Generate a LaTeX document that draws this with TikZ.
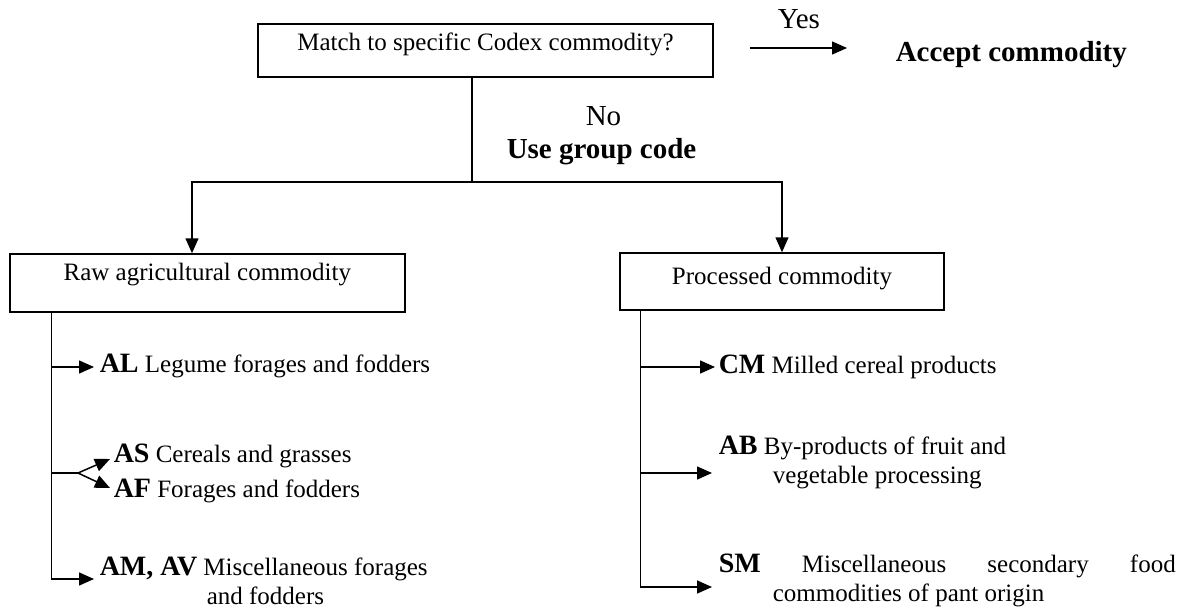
\documentclass[tikz,border=0pt]{standalone}
\usepackage{fontspec}
\setmainfont{Liberation Serif}
\usetikzlibrary{arrows.meta}
\usetikzlibrary{positioning}
\tikzstyle{box} = [rectangle, draw, inner sep=0pt, align=center]
\tikzstyle{item} = [inner sep=0pt, anchor=base west, align=left]
\tikzstyle{label} = [inner sep=0pt, anchor=base west, font=\fontsize{29}{32}\selectfont]
\tikzstyle{line} = [draw, -{Triangle[length=15pt,width=13pt]}]
\newcommand{\code}[1]{{\fontsize{28}{29}\selectfont\bfseries #1}}
\newcommand{\bodyfont}{\fontsize{25}{29}\selectfont}
\newcommand{\hang}[3]{\begin{tabular}[t]{@{}l@{}}#1\\\hspace*{#2}#3\end{tabular}}

\begin{document}
\begin{tikzpicture}[x=1pt, y=-1pt, line width=1.5pt, font=\bodyfont]
    \useasboundingbox (0,0) rectangle (1186,608);
    % Place nodes
    \node [box, minimum width=455pt, text height=26pt, text depth=27pt] (match) at (485.5,50.5) {Match to specific Codex commodity?};
    \node [label] (yes) at (777,28) {Yes};
    \node [label] (accept) at (895,61) {\bfseries Accept commodity};
    \node [label] (no) at (585,125) {No};
    \node [label] (group) at (506,158) {\bfseries Use group code};
    \node [box, minimum width=395pt, text height=26pt, text depth=32pt] (raw) at (207.3,283) {Raw agricultural commodity};
    \node [box, minimum width=324pt, text height=31pt, text depth=26pt] (proc) at (782,281.5) {Processed commodity};
    \node [item] (al) at (99,372) {\code{AL} Legume forages and fodders};
    \node [item] (as) at (113,462) {\code{AS} Cereals and grasses};
    \node [item] (af) at (113,497) {\code{AF} Forages and fodders};
    \node [item] (amav) at (99,575) {\hang{\code{AM, AV} Miscellaneous forages}{107pt}{and fodders}};
    \node [item] (cm) at (718,373) {\code{CM} Milled cereal products};
    \node [item] (ab) at (718,454) {\hang{\code{AB} By-products of fruit and}{54pt}{vegetable processing}};
    \node [item] (sm) at (718,572) {\hang{\makebox[457pt][s]{\code{SM} Miscellaneous secondary food}}{54pt}{commodities of pant origin}};
    % Coordinates
    \coordinate (split) at (472,182);
    \coordinate (yestip) at (847,48);
    \coordinate (ltop) at ([xshift=42.4pt]raw.south west);
    \coordinate (rtop) at ([xshift=21pt]proc.south west);
    \coordinate (fork) at (78,473);
    \coordinate (altip) at ([shift={(-5pt,5pt)}]al.base west);
    \coordinate (astip) at ([shift={(-3pt,3pt)}]as.base west);
    \coordinate (aftip) at ([shift={(-3pt,9pt)}]af.base west);
    \coordinate (amavtip) at ([shift={(-5pt,-4pt)}]amav.base west);
    \coordinate (cmtip) at ([shift={(-3pt,6pt)}]cm.base west);
    \coordinate (abtip) at ([shift={(-6pt,-19pt)}]ab.base west);
    \coordinate (smtip) at ([shift={(-6pt,-15pt)}]sm.base west);
    % Draw edges
    \draw (match.south -| split) -- (split);
    \path [line] (split) -| ([xshift=-15.3pt]raw.north);
    \path [line] (split) -| (proc.north);
    \path [line] (match.east |- yestip) ++(36pt,0) -- (yestip);
    \path [line] (ltop) |- (amavtip);
    \path [line] (ltop |- altip) -- (altip);
    \draw (ltop |- fork) -- (fork);
    \path [line] (fork) -- (astip);
    \path [line] (fork) -- (aftip);
    \path [line] (rtop) |- (smtip);
    \path [line] (rtop |- cmtip) -- (cmtip);
    \path [line] (rtop |- abtip) -- (abtip);
\end{tikzpicture}
\end{document}
